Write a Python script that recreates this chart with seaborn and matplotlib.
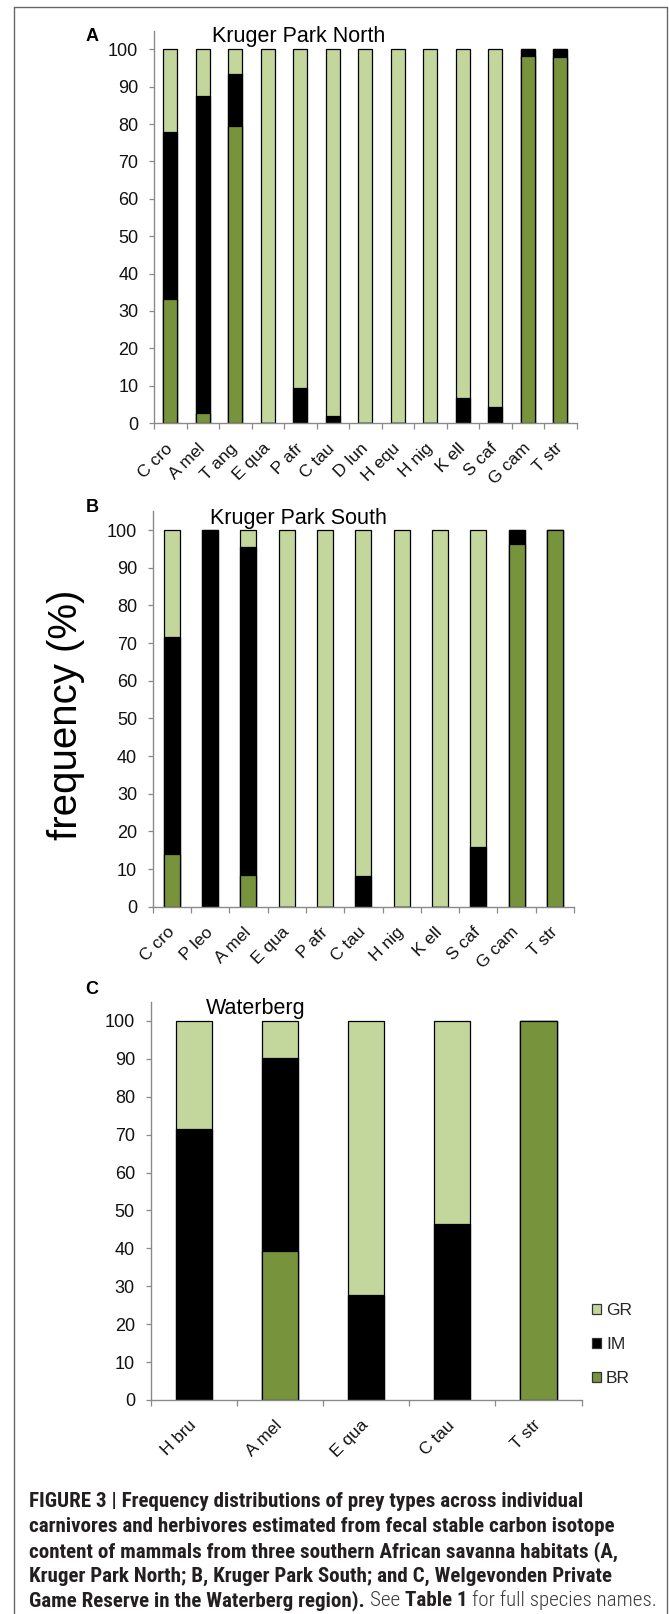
import numpy as np
import pandas as pd
import matplotlib
matplotlib.use("Agg")
import matplotlib.pyplot as plt
import seaborn as sns
from matplotlib import font_manager as fm
from matplotlib.lines import Line2D
from matplotlib.patches import Patch

# ---------------- data ----------------
cats_A = ["C cro", "A mel", "T ang", "E qua", "P afr", "C tau", "D lun",
          "H equ", "H nig", "K ell", "S caf", "G cam", "T str"]
BR_A = [33.1, 2.7, 79.4, 0, 0, 0, 0, 0, 0, 0, 0, 98.3, 98.0]
IM_A = [44.7, 84.7, 13.9, 0, 9.3, 1.8, 0, 0, 0, 6.8, 4.4, 1.7, 2.0]
GR_A = [22.2, 12.6, 6.7, 100, 90.7, 98.2, 100, 100, 100, 93.2, 95.6, 0, 0]

cats_B = ["C cro", "P leo", "A mel", "E qua", "P afr", "C tau", "H nig",
          "K ell", "S caf", "G cam", "T str"]
BR_B = [14.0, 0, 8.4, 0, 0, 0, 0, 0, 0, 96.4, 100]
IM_B = [57.6, 100, 87.1, 0, 0, 8.2, 0, 0, 15.8, 3.6, 0]
GR_B = [28.4, 0, 4.5, 100, 100, 91.8, 100, 100, 84.2, 0, 0]

cats_C = ["H bru", "A mel", "E qua", "C tau", "T str"]
BR_C = [0, 39.4, 0, 0, 100]
IM_C = [71.4, 50.8, 27.6, 46.5, 0]
GR_C = [28.6, 9.8, 72.4, 53.5, 0]

titles = ["Kruger Park North", "Kruger Park South", "Waterberg"]
letters = ["A", "B", "C"]
yticks = list(range(0, 101, 10))
legend_labels = ["GR", "IM", "BR"]
ylabel = "frequency (%)"
caption_lines = [
    [("FIGURE 3 | Frequency distributions of prey types across individual", "bold")],
    [("carnivores and herbivores estimated from fecal stable carbon isotope", "bold")],
    [("content of mammals from three southern African savanna habitats (A,", "bold")],
    [("Kruger Park North; B, Kruger Park South; and C, Welgevonden Private", "bold")],
    [("Game Reserve in the Waterberg region).", "bold"), ("See", "normal"),
     ("Table 1", "bold"), ("for full species names.", "normal")],
]

# ---------------- style ----------------
COL_GR = "#C3D69B"
COL_IM = "#000000"
COL_BR = "#77933C"
SPINE = "#8a8a8a"
FRAME = "#666666"

sns.set_style("white")
plt.rcParams["font.family"] = ["Liberation Sans", "DejaVu Sans"]

W, H = 669, 1614
fig = plt.figure(figsize=(W / 100, H / 100), dpi=100)
renderer = fig.canvas.get_renderer()


def fx(x):
    return x / W


def fy(y):
    return 1 - y / H


def add_ax(left, right, top, bottom):
    return fig.add_axes([fx(left), fy(bottom), (right - left) / W, (bottom - top) / H])


def panel(ax, cats, br, im, gr):
    br = np.asarray(br, float)
    im = np.asarray(im, float)
    gr = np.asarray(gr, float)
    n = len(cats)
    layers = [(br + im + gr, COL_GR), (br + im, COL_IM), (br, COL_BR)]
    for vals, col in layers:
        df = pd.DataFrame({"cat": cats, "val": vals})
        sns.barplot(data=df, x="cat", y="val", order=cats, color=col,
                    saturation=1, width=0.42, edgecolor="black",
                    linewidth=0.9, ax=ax, errorbar=None)
    ax.set_xlim(-0.5, n - 0.5)
    ax.set_ylim(0, 105)
    ax.set_xlabel("")
    ax.set_ylabel("")
    ax.set_yticks(yticks)
    ax.set_yticklabels([str(v) for v in yticks])
    for s in ["top", "right"]:
        ax.spines[s].set_visible(False)
    for s in ["left", "bottom"]:
        ax.spines[s].set_color(SPINE)
        ax.spines[s].set_linewidth(1.0)
    ax.tick_params(axis="y", which="major", left=True, length=3.8, width=0.9,
                   color=SPINE, pad=7.5, labelsize=13, labelcolor="#111111")
    ax.set_xticks(np.arange(-0.5, n, 1.0), minor=True)
    ax.tick_params(axis="x", which="minor", bottom=True, length=4, width=0.9,
                   color=SPINE)
    ax.set_xticks(range(n))
    ax.set_xticklabels(cats, rotation=45, ha="right", va="center",
                       rotation_mode="anchor")
    ax.tick_params(axis="x", which="major", bottom=False, length=0, pad=16.5,
                   labelsize=12.5, labelcolor="#111111")
    ax.set_facecolor("none")


axA = add_ax(154, 576.5, 30.6, 423)
axB = add_ax(152.7, 574, 511.2, 906.7)
axC = add_ax(150.6, 581.7, 1002, 1400)
panel(axA, cats_A, BR_A, IM_A, GR_A)
panel(axB, cats_B, BR_B, IM_B, GR_B)
panel(axC, cats_C, BR_C, IM_C, GR_C)

# panel letters and titles
for (lx, ly), let in zip([(92, 36.5), (92, 507), (92, 990)], letters):
    fig.text(fx(lx), fy(ly), let, ha="center", va="center", fontsize=13,
             fontweight="bold", color="black")
for (tx, ty), tt in zip([(212, 41.7), (210, 524), (206, 1014)], titles):
    fig.text(fx(tx), fy(ty), tt, ha="left", va="baseline", fontsize=15.5,
             color="black")

fig.text(fx(66), fy(715), ylabel, rotation=90, ha="center", va="center",
         fontsize=29, color="black")

# legend
handles = [Patch(facecolor=COL_GR, edgecolor="#333333", linewidth=0.9),
           Patch(facecolor=COL_IM, edgecolor="#333333", linewidth=0.9),
           Patch(facecolor=COL_BR, edgecolor="#333333", linewidth=0.9)]
fig.legend(handles, legend_labels, loc="upper left",
           bbox_to_anchor=(fx(592), fy(1303)), frameon=False, fontsize=12.5,
           handlelength=0.5, handleheight=0.5, handletextpad=0.3,
           labelspacing=1.1, borderpad=0, borderaxespad=0)

# frame
for xs, ys in [([14, 14], [6.7, H + 5]), ([14, 667], [6.7, 6.7]),
               ([667, 667], [6.7, H + 5])]:
    fig.add_artist(Line2D([fx(x) for x in xs], [fy(y) for y in ys],
                          transform=fig.transFigure, color=FRAME, lw=1.0))

# caption font: prefer a condensed / narrow sans family
ttf = fm.fontManager.ttflist


def _w(f):
    w = f.weight
    if isinstance(w, str):
        wl = w.lower()
        if "bold" in wl:
            return 700
        if "light" in wl:
            return 300
        return 400
    return int(w)


def pick(name, stretches):
    pool = [f for f in ttf if f.name == name and f.stretch in stretches
            and f.style == "normal"]
    bold = [f for f in pool if 600 <= _w(f) <= 750]
    light = [f for f in pool if 280 <= _w(f) <= 320]
    reg = [f for f in pool if 380 <= _w(f) <= 420]
    if bold and (light or reg):
        r = (light or reg)[0]
        return (fm.FontProperties(fname=bold[0].fname),
                fm.FontProperties(fname=r.fname))
    return None


cap_fonts = None
for nm, st in [("Liberation Sans Narrow", ("normal", "condensed", "semi-condensed")),
               ("Roboto Condensed", ("normal", "condensed", "semi-condensed")),
               ("Open Sans Condensed", ("normal", "condensed", "semi-condensed")),
               ("DejaVu Sans", ("condensed", "semi-condensed")),
               ("Noto Sans", ("condensed", "semi-condensed")),
               ("Liberation Sans", ("normal",))]:
    cap_fonts = pick(nm, st)
    if cap_fonts:
        break
bold_fp, reg_fp = cap_fonts


def fp_for(weight, size):
    fp = (bold_fp if weight == "bold" else reg_fp).copy()
    fp.set_size(size)
    return fp


def text_w(s, size, weight):
    t = fig.text(0, 0, s, fontproperties=fp_for(weight, size))
    w = t.get_window_extent(renderer).width
    t.remove()
    return w


X0 = 29
line_right = [608, 639, 640, 640, 653]
base = 13.0
sp0 = text_w("a a", base, "bold") - text_w("aa", base, "bold")
sizes = []
for segs, xr in zip(caption_lines, line_right):
    wsum = sum(text_w(s, base, wg) for s, wg in segs) + sp0 * (len(segs) - 1)
    sizes.append(base * (xr - X0) / wsum)
cap_size = min(sizes)
space_w = text_w("a a", cap_size, "bold") - text_w("aa", cap_size, "bold")
baselines = [1507, 1532, 1557, 1582, 1606]
for segs, yb in zip(caption_lines, baselines):
    x = X0
    for i, (s, wgt) in enumerate(segs):
        if i > 0:
            x += space_w
        col = "#231f20" if wgt == "bold" else "#3a3a3a"
        fig.text(fx(x), fy(yb), s, ha="left", va="baseline",
                 fontproperties=fp_for(wgt, cap_size), color=col)
        x += text_w(s, cap_size, wgt)

fig.savefig("out.png", dpi=100, facecolor="white")
